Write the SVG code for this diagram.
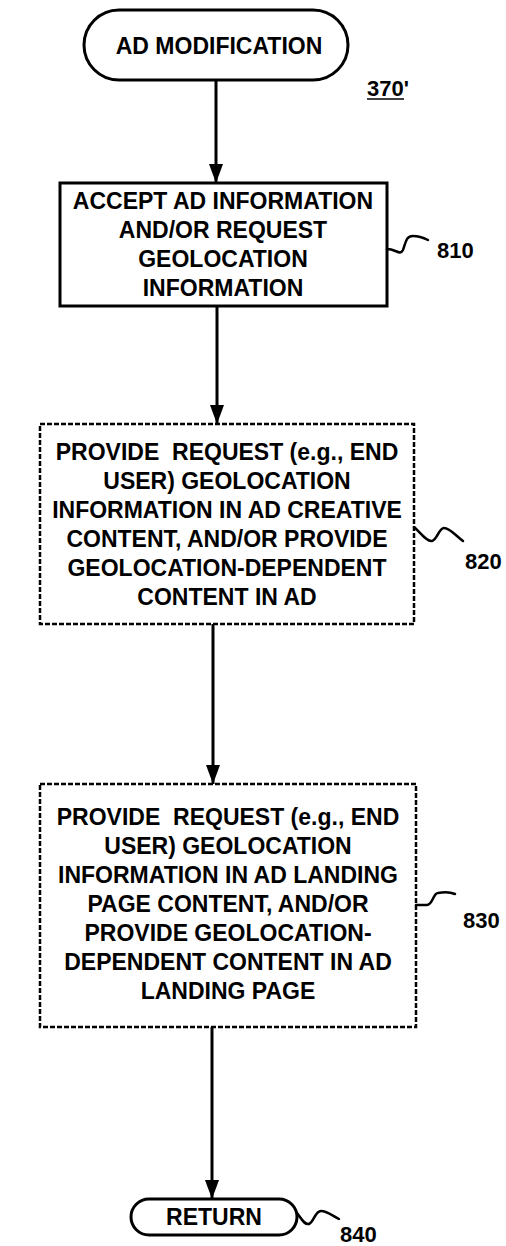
<svg xmlns="http://www.w3.org/2000/svg" width="506" height="1246" viewBox="0 0 506 1246">
<defs>
<marker id="ah" markerUnits="userSpaceOnUse" markerWidth="19" markerHeight="14" refX="19" refY="7" orient="auto" viewBox="0 0 19 14">
<path d="M0,0 L19,7 L0,14 z" fill="#000"/>
</marker>
<style>
.t{font-family:"Liberation Sans",Arial,Helvetica,sans-serif;font-weight:bold;font-size:23px;fill:#000;text-anchor:middle}
.lbl{font-family:"Liberation Sans",Arial,Helvetica,sans-serif;font-weight:bold;font-size:22px;fill:#000}
.solid{fill:#fff;stroke:#000;stroke-width:3}
.dash{fill:#fff;stroke:#000;stroke-width:2.5;stroke-dasharray:5 2}
.sq{fill:none;stroke:#000;stroke-width:2.5;stroke-linecap:round}
.conn{stroke:#000;stroke-width:3;fill:none}
</style>
</defs>
<rect width="506" height="1246" fill="#fff"/>
<g id="connectors">
<line class="conn" x1="216" y1="80" x2="216" y2="183" marker-end="url(#ah)"/>
<line class="conn" x1="217" y1="306" x2="217" y2="424" marker-end="url(#ah)"/>
<line class="conn" x1="213" y1="624" x2="213" y2="784" marker-end="url(#ah)"/>
<line class="conn" x1="212" y1="1027" x2="212" y2="1199" marker-end="url(#ah)"/>
</g>
<g id="start">
<rect class="solid" x="84" y="10" width="264" height="70" rx="35"/>
<text class="t" x="219" y="54" font-size="25">AD MODIFICATION</text>
<text class="lbl" x="367" y="96" font-size="18">370'</text>
<line x1="367" y1="99" x2="404" y2="99" stroke="#000" stroke-width="1.5"/>
</g>
<g id="n810">
<rect class="solid" x="60" y="183" width="327" height="123"/>
<text class="t" x="223" y="209">ACCEPT AD INFORMATION</text>
<text class="t" x="223" y="238">AND/OR REQUEST</text>
<text class="t" x="223" y="267">GEOLOCATION</text>
<text class="t" x="223" y="296">INFORMATION</text>
<path class="sq" d="M387,249 C396,249 400,256 403,250 C406,242 406,236 413,236 C420,236 424,238 428,240"/>
<text class="lbl" x="437" y="258">810</text>
</g>
<g id="n820">
<rect class="dash" x="40" y="424" width="374" height="200"/>
<text class="t" x="227" y="460" xml:space="preserve">PROVIDE  REQUEST (e.g., END</text>
<text class="t" x="227" y="489">USER) GEOLOCATION</text>
<text class="t" x="227" y="518">INFORMATION IN AD CREATIVE</text>
<text class="t" x="227" y="547">CONTENT, AND/OR PROVIDE</text>
<text class="t" x="227" y="576">GEOLOCATION-DEPENDENT</text>
<text class="t" x="227" y="605">CONTENT IN AD</text>
<path class="sq" d="M414,527 C420,532 427,542 432,541 C437,540 439,528 444,528 C450,528 456,536 463,541"/>
<text class="lbl" x="465" y="569">820</text>
</g>
<g id="n830">
<rect class="dash" x="40" y="784" width="376" height="243"/>
<text class="t" x="228" y="825" xml:space="preserve">PROVIDE  REQUEST (e.g., END</text>
<text class="t" x="228" y="854">USER) GEOLOCATION</text>
<text class="t" x="228" y="883">INFORMATION IN AD LANDING</text>
<text class="t" x="228" y="912">PAGE CONTENT, AND/OR</text>
<text class="t" x="228" y="941">PROVIDE GEOLOCATION-</text>
<text class="t" x="228" y="970">DEPENDENT CONTENT IN AD</text>
<text class="t" x="228" y="999">LANDING PAGE</text>
<path class="sq" d="M416,905 L427,905 C433,905 433,893 438,893 C444,892 450,892 455,894"/>
<text class="lbl" x="463" y="928">830</text>
</g>
<g id="n840">
<rect class="solid" x="131" y="1199" width="166" height="36" rx="18"/>
<text class="t" x="214" y="1225">RETURN</text>
<path class="sq" d="M297,1213 C301,1218 304,1225 309,1224 C314,1222 315,1211 321,1211 C327,1211 333,1216 339,1219"/>
<text class="lbl" x="340" y="1242">840</text>
</g>
</svg>
